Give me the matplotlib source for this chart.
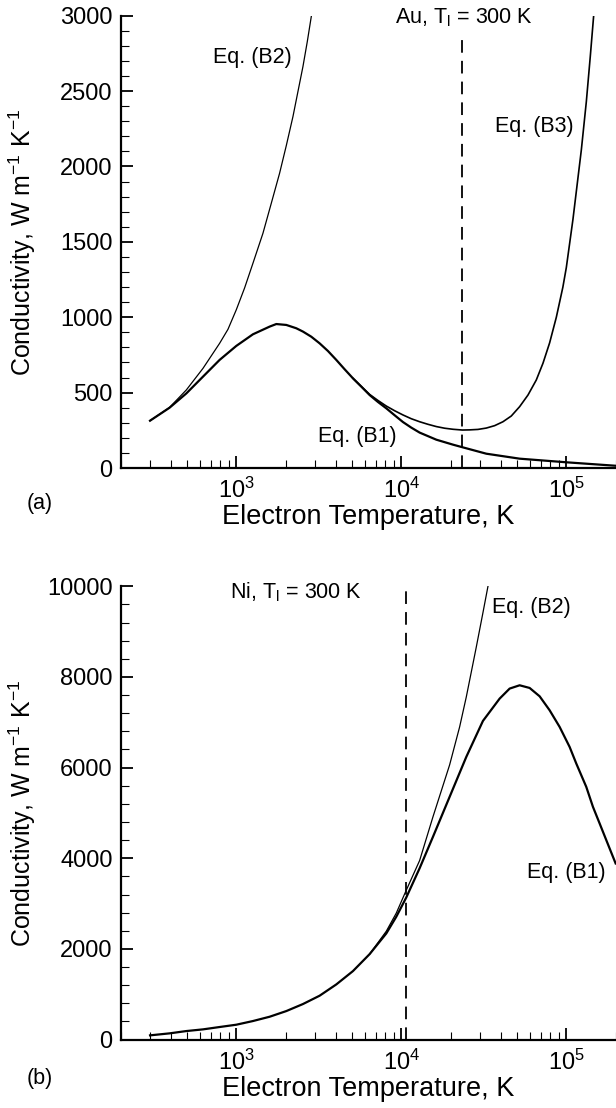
import numpy as np
import matplotlib
matplotlib.use("Agg")
import matplotlib.pyplot as plt
from matplotlib.ticker import MultipleLocator

plt.rcParams['font.family'] = ['Liberation Sans', 'DejaVu Sans']
plt.rcParams['mathtext.fontset'] = 'custom'
plt.rcParams['mathtext.rm'] = 'Liberation Sans'
plt.rcParams['mathtext.it'] = 'Liberation Sans:italic'
plt.rcParams['mathtext.default'] = 'regular'

# (a) Au, values
au_b1_T = [300, 394, 498, 628, 792, 1000, 1261, 1592, 1747, 2009, 2309, 2534, 2847,
           3198, 3593, 4036, 4533, 5091, 5720, 6427, 7219, 8108, 9108, 10230, 11490,
           12910, 16290, 20560, 23420, 32730, 52120, 100000, 199100]
au_b1_k = [314, 400, 495, 606, 717, 810, 887, 938, 955, 949, 927, 905, 871,
           827, 776, 717, 655, 595, 540, 484, 438, 396, 350, 305, 268,
           235, 188, 155, 138, 95, 62, 38, 15]
au_b3_T = [5091, 5720, 6427, 7219, 8108, 9108, 10230, 11490, 12910, 14500, 16290,
           18300, 20560, 23420, 25940, 29130, 32730, 36770, 41300, 46390, 52120,
           58550, 65770, 72190, 79200, 86970, 95300, 100000, 109700, 123300,
           132200, 139700, 146300]
au_b3_k = [595, 541, 488, 448, 411, 380, 352, 327, 307, 290, 275,
           264, 257, 252, 253, 256, 265, 281, 307, 345, 407,
           484, 584, 695, 830, 1000, 1200, 1330, 1650, 2110,
           2430, 2730, 2995]
au_b2_T = [300, 394, 498, 628, 792, 890, 1000, 1123, 1261, 1450, 1629, 1829, 2009,
           2204, 2363, 2534, 2693, 2847]
au_b2_k = [314, 402, 518, 661, 827, 920, 1050, 1195, 1358, 1557, 1756, 1955, 2139,
           2331, 2497, 2663, 2829, 2995]
au_Te_dash = 23400

# (b) Ni
ni_b1_T = [300, 394, 498, 628, 792, 1000, 1261, 1592, 2009, 2534, 3198, 4036, 5091,
           6427, 8108, 9322, 10700, 12910, 15550, 19620, 24760, 31240, 39430, 45330,
           52120, 59930, 68900, 79200, 91080, 104700, 114900, 132100, 145000,
           159200, 174700, 199000]
ni_b1_k = [92, 136, 187, 224, 276, 327, 408, 503, 628, 783, 967, 1216, 1510,
           1885, 2341, 2710, 3130, 3780, 4473, 5355, 6237, 7031, 7523, 7744,
           7817, 7758, 7574, 7266, 6898, 6457, 6090, 5575, 5134,
           4767, 4399, 3885]
ni_b2_T = [6427, 8108, 9322, 10700, 12910, 15550, 19620, 22560, 24760, 27180,
           28470, 31240, 33500]
ni_b2_k = [1885, 2390, 2790, 3290, 3950, 4914, 6060, 6898, 7560, 8295,
           8662, 9420, 10000]
ni_Te_dash = 10700

fig = plt.figure(figsize=(6.16, 11.08), dpi=100)
ax1 = fig.add_axes([0.1964, 0.5776, 0.8036, 0.4082])
ax2 = fig.add_axes([0.1964, 0.0618, 0.8036, 0.4090])

dash = (0, (7, 4.5))

ax1.plot(au_b2_T, au_b2_k, 'k-', lw=0.9)
ax1.plot(au_b3_T, au_b3_k, 'k-', lw=1.2)
ax1.plot(au_b1_T, au_b1_k, 'k-', lw=1.6)
ax1.plot([au_Te_dash, au_Te_dash], [0, 2880], color='k', lw=1.3, linestyle=dash)
ax1.set_ylim(0, 3000)
ax1.yaxis.set_major_locator(MultipleLocator(500))
ax1.yaxis.set_minor_locator(MultipleLocator(100))
ax1.text(718, 2720, 'Eq. (B2)', fontsize=15.5, va='center')
ax1.text(9100, 2990, r'Au, T$_\mathregular{l}$ = 300 K', fontsize=15.5, va='center')
ax1.text(36800, 2263, 'Eq. (B3)', fontsize=15.5, va='center')
ax1.text(3110, 206, 'Eq. (B1)', fontsize=15.5, va='center')

ax2.plot(ni_b2_T, ni_b2_k, 'k-', lw=0.9)
ax2.plot(ni_b1_T, ni_b1_k, 'k-', lw=1.6)
ax2.plot([ni_Te_dash, ni_Te_dash], [0, 10000], color='k', lw=1.3, linestyle=dash)
ax2.set_ylim(0, 10000)
ax2.yaxis.set_major_locator(MultipleLocator(2000))
ax2.yaxis.set_minor_locator(MultipleLocator(400))
ax2.text(911, 9868, r'Ni, T$_\mathregular{l}$ = 300 K', fontsize=15.5, va='center')
ax2.text(35200, 9537, 'Eq. (B2)', fontsize=15.5, va='center')
ax2.text(57400, 3693, 'Eq. (B1)', fontsize=15.5, va='center')

for ax, tag, tag_y in [(ax1, '(a)', -0.078), (ax2, '(b)', -0.085)]:
    ax.set_xscale('log')
    ax.set_xlim(200, 2e5)
    ax.spines['top'].set_visible(False)
    ax.spines['right'].set_visible(False)
    ax.spines['left'].set_linewidth(1.6)
    ax.spines['bottom'].set_linewidth(1.6)
    ax.tick_params(which='both', direction='in', top=False, right=False, labelsize=17)
    ax.tick_params(which='major', length=8.5, width=1.3, pad=6)
    ax.tick_params(which='minor', length=5.5, width=0.8)
    ax.tick_params(axis='x', which='major', pad=7)
    ax.set_xlabel('Electron Temperature, K', fontsize=19.5)
    ax.set_ylabel(r'Conductivity, W m$^{-1}$ K$^{-1}$', fontsize=18)
    ax.xaxis.set_label_coords(0.5, -0.08)
    ax.yaxis.set_label_coords(-0.168, 0.5)
    ax.text(-0.19, tag_y, tag, transform=ax.transAxes, fontsize=15.5, va='center')

plt.savefig("out.png", dpi=100)
